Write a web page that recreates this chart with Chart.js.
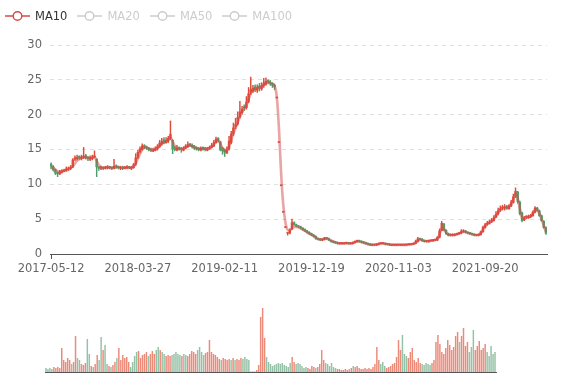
<!DOCTYPE html>
<html><head><meta charset="utf-8">
<script src="https://cdn.jsdelivr.net/npm/chart.js@4.4.0/dist/chart.umd.min.js"></script>
<style>
html,body{margin:0;padding:0;background:#fff;}
#wrap{position:relative;width:577px;height:380px;overflow:hidden;}
canvas{position:absolute;left:0;top:0;}
#legend{position:absolute;left:5px;top:8px;display:flex;gap:10px;font:11.5px 'DejaVu Sans',sans-serif;line-height:16px;}
.item{display:flex;align-items:center;gap:5px;}
.item svg{display:block;}
</style></head><body>
<div id="wrap">
<canvas id="main" width="577" height="380"></canvas>
<canvas id="vol" width="577" height="380"></canvas>
<div id="legend"></div>
</div>
<script>
const tickLabels = ['2017-05-12','2018-03-27','2019-02-11','2019-12-19','2020-11-03','2021-09-20'];
const tickEvery = 40;
const legendNames = ['MA10','MA20','MA50','MA100'];
const legendActive = [true,false,false,false];

const opens = [
12.9,12.5,12.1,11.7,11.5,11.8,11.9,12.0,12.2,12.3,
12.5,13.6,13.7,14.0,13.7,13.9,14.1,13.9,13.6,13.7,
13.9,13.6,12.4,12.3,12.4,12.3,12.4,12.5,12.4,12.3,
12.6,12.5,12.3,12.4,12.3,12.4,12.5,12.3,12.4,12.9,
13.9,14.7,15.0,15.6,15.3,15.2,15.0,14.8,14.9,15.1,
15.4,15.8,16.4,16.0,16.2,16.6,16.3,15.2,14.9,15.3,
15.1,14.9,15.2,15.4,15.8,15.6,15.5,15.3,15.1,14.9,
15.3,15.2,14.9,15.1,15.3,15.5,16.0,16.6,16.1,15.2,
14.9,14.5,15.1,16.0,17.3,18.3,18.7,19.7,20.3,21.1,
21.0,21.9,23.2,23.4,24.0,23.5,24.1,23.7,24.2,24.4,
24.9,24.6,24.5,24.2,22.4,16.0,9.8,6.0,3.8,3.0,
3.0,3.6,4.5,4.2,4.0,3.9,3.7,3.5,3.3,3.1,
2.9,2.7,2.5,2.2,2.1,2.0,2.1,2.3,2.2,2.0,
1.8,1.7,1.6,1.5,1.5,1.5,1.5,1.6,1.5,1.5,
1.6,1.8,1.9,1.8,1.7,1.6,1.5,1.4,1.3,1.3,
1.3,1.4,1.5,1.5,1.5,1.4,1.4,1.3,1.3,1.3,
1.3,1.3,1.3,1.3,1.3,1.35,1.35,1.4,1.5,1.8,
2.2,2.1,1.9,1.8,1.8,1.9,1.9,2.0,2.0,2.4,
3.4,4.3,3.4,2.9,2.7,2.7,2.7,2.8,2.9,3.0,
3.2,3.3,3.1,3.0,2.9,2.8,2.7,2.7,2.8,3.2,
3.8,4.3,4.4,4.7,4.8,5.3,5.8,6.3,6.6,6.6,
6.8,6.5,6.9,7.4,8.3,8.9,7.4,5.9,4.9,5.3,
5.2,5.4,5.5,6.0,6.6,6.2,5.5,4.7,3.8];
const closes = [
12.6,12.1,11.6,11.5,11.8,11.9,12.0,12.2,12.3,12.4,
13.5,13.8,13.9,13.8,13.9,14.0,13.8,13.7,13.8,13.9,
14.1,12.5,12.3,12.4,12.3,12.4,12.5,12.4,12.3,12.6,
12.5,12.4,12.4,12.3,12.4,12.5,12.4,12.4,12.8,13.8,
14.6,15.1,15.5,15.3,15.2,15.0,14.9,14.9,15.1,15.4,
15.9,16.2,16.0,16.3,16.6,17.2,15.1,15.0,15.2,15.1,
15.0,15.2,15.5,15.7,15.6,15.4,15.2,15.1,15.0,15.2,
15.1,15.0,15.1,15.3,15.6,16.0,16.5,16.3,15.0,14.8,
14.6,15.0,16.2,17.2,18.1,18.6,19.6,20.4,20.8,21.0,
21.8,23.0,23.6,23.8,23.6,23.9,23.8,24.2,24.5,24.8,
24.7,24.5,24.2,24.0,22.4,16.0,9.8,6.0,3.8,3.0,
3.4,4.5,4.2,4.0,3.9,3.7,3.5,3.3,3.1,2.9,
2.7,2.5,2.2,2.1,2.0,2.1,2.3,2.2,2.0,1.8,
1.7,1.6,1.5,1.5,1.5,1.5,1.6,1.5,1.5,1.6,
1.8,1.9,1.8,1.7,1.6,1.5,1.4,1.3,1.3,1.3,
1.4,1.5,1.5,1.5,1.4,1.4,1.3,1.3,1.3,1.3,
1.3,1.3,1.3,1.3,1.35,1.35,1.4,1.5,1.8,2.2,
2.1,1.9,1.8,1.8,1.9,1.9,2.0,2.0,2.4,3.3,
4.4,3.4,2.9,2.7,2.7,2.7,2.8,2.9,3.0,3.2,
3.3,3.1,3.0,2.9,2.8,2.7,2.7,2.8,3.2,3.8,
4.2,4.4,4.6,4.8,5.2,5.7,6.2,6.5,6.6,6.7,
6.6,6.9,7.4,8.2,9.0,7.5,5.8,4.8,5.2,5.3,
5.4,5.5,6.0,6.6,6.3,5.5,4.8,3.8,3.0];
const highs = [
13.1,12.7,12.2,11.8,12.0,12.1,12.2,12.5,12.5,12.7,
13.7,14.1,14.2,14.1,14.2,15.3,14.3,14.0,14.1,14.2,
14.8,13.7,12.6,12.6,12.5,12.6,12.7,12.6,12.5,13.6,
12.8,12.6,12.6,12.6,12.6,12.7,12.6,12.6,13.0,14.4,
14.9,15.4,15.8,15.7,15.5,15.3,15.2,15.2,15.4,15.7,
16.3,16.6,16.7,16.7,16.9,19.1,16.4,15.5,15.6,15.4,
15.3,15.4,15.7,16.1,15.9,15.8,15.6,15.4,15.3,15.4,
15.4,15.3,15.3,15.5,15.9,16.3,16.8,16.7,16.2,15.3,
15.1,15.4,16.9,17.6,18.8,19.5,20.4,21.9,21.2,21.4,
22.6,23.9,25.4,24.2,24.3,24.3,24.5,24.6,25.2,25.3,
25.0,24.9,24.6,24.4,22.4,16.0,9.8,6.0,3.8,3.0,
3.6,5.0,4.6,4.3,4.1,4.0,3.8,3.6,3.4,3.2,
3.0,2.8,2.6,2.3,2.2,2.2,2.4,2.4,2.3,2.0,
1.9,1.8,1.7,1.6,1.6,1.6,1.7,1.7,1.6,1.7,
1.9,2.0,2.0,1.9,1.8,1.7,1.6,1.5,1.4,1.4,
1.5,1.6,1.6,1.6,1.6,1.5,1.5,1.4,1.4,1.4,
1.4,1.4,1.4,1.4,1.45,1.45,1.5,1.6,2.0,2.4,
2.3,2.2,2.0,1.9,2.0,2.0,2.1,2.1,2.5,3.6,
4.7,4.4,3.5,3.0,2.9,2.9,2.9,3.0,3.1,3.5,
3.5,3.4,3.2,3.1,3.0,2.9,2.8,2.9,3.3,4.0,
4.4,4.7,4.9,5.1,5.5,6.1,6.6,6.9,7.0,7.1,
7.0,7.1,7.7,8.6,9.5,9.0,7.6,6.0,5.4,5.5,
5.6,5.7,6.2,6.8,6.7,6.3,5.6,4.8,3.9];
const lows = [
12.2,11.9,11.4,11.1,11.4,11.6,11.8,11.9,12.0,12.1,
12.4,13.4,13.5,13.6,13.5,13.7,13.6,13.4,13.4,13.5,
13.8,11.1,12.0,12.1,12.1,12.2,12.2,12.2,12.1,12.2,
12.3,12.2,12.1,12.1,12.2,12.2,12.2,12.1,12.3,12.7,
13.7,14.5,14.9,15.1,15.0,14.8,14.7,14.7,14.8,14.9,
15.3,15.6,15.8,15.9,16.0,16.4,14.4,14.8,14.8,14.9,
14.6,14.8,15.1,15.3,15.4,15.2,15.0,14.9,14.8,14.8,
14.9,14.8,14.8,15.0,15.2,15.4,15.9,16.1,14.8,14.3,
14.0,14.4,14.9,15.8,17.0,18.0,18.5,19.5,20.1,20.6,
20.8,21.7,22.9,23.2,23.3,23.2,23.4,23.5,23.9,24.2,
24.4,24.2,23.9,23.6,22.4,16.0,9.8,6.0,3.8,2.7,
2.9,3.5,4.1,3.9,3.8,3.6,3.4,3.2,3.0,2.8,
2.6,2.4,2.1,2.0,1.9,1.9,2.0,2.1,1.9,1.7,
1.6,1.5,1.4,1.4,1.4,1.4,1.5,1.4,1.4,1.4,
1.6,1.7,1.7,1.6,1.5,1.4,1.3,1.2,1.2,1.2,
1.2,1.3,1.4,1.4,1.3,1.3,1.2,1.2,1.2,1.2,
1.2,1.2,1.2,1.2,1.25,1.3,1.3,1.35,1.45,1.7,
2.0,1.8,1.7,1.7,1.7,1.8,1.8,1.9,1.9,2.3,
3.3,3.3,2.8,2.6,2.6,2.6,2.6,2.7,2.8,2.9,
3.1,3.0,2.9,2.8,2.7,2.6,2.6,2.6,2.7,3.1,
3.7,4.1,4.3,4.5,4.7,5.2,5.6,6.1,6.3,6.3,
6.4,6.4,6.8,7.3,8.1,7.3,5.6,4.6,4.8,5.1,
5.1,5.2,5.4,5.9,6.1,5.4,4.7,3.7,2.8];
const ma10 = [
12.6,12.4,12.1,11.9,11.8,11.8,11.9,12.0,12.1,12.3,
12.6,13.0,13.4,13.6,13.8,13.9,13.9,13.8,13.8,13.8,
13.9,13.4,12.8,12.5,12.4,12.4,12.4,12.4,12.4,12.4,
12.5,12.5,12.4,12.4,12.4,12.4,12.4,12.4,12.5,13.0,
13.7,14.4,15.0,15.3,15.3,15.1,15.0,14.9,15.0,15.2,
15.5,15.9,16.0,16.1,16.4,16.7,16.2,15.5,15.2,15.1,
15.1,15.1,15.3,15.5,15.6,15.5,15.3,15.2,15.1,15.1,
15.1,15.1,15.1,15.2,15.4,15.7,16.1,16.3,15.8,15.2,
14.8,14.9,15.5,16.4,17.3,18.1,18.9,19.7,20.4,20.8,
21.3,22.2,23.0,23.5,23.7,23.8,23.9,24.0,24.3,24.6,
24.7,24.6,24.4,24.1,22.6,18.0,11.5,7.0,4.5,3.5,
3.4,3.7,3.9,3.9,3.8,3.7,3.5,3.3,3.1,2.9,
2.8,2.6,2.4,2.2,2.1,2.1,2.2,2.2,2.1,1.9,
1.8,1.7,1.6,1.5,1.5,1.5,1.5,1.5,1.5,1.6,
1.7,1.8,1.8,1.7,1.6,1.5,1.4,1.35,1.3,1.3,
1.35,1.45,1.5,1.5,1.45,1.4,1.35,1.3,1.3,1.3,
1.3,1.3,1.3,1.3,1.3,1.35,1.4,1.45,1.65,1.95,
2.05,2.0,1.9,1.85,1.85,1.9,1.95,2.0,2.2,2.8,
3.7,3.6,3.1,2.8,2.7,2.7,2.75,2.85,2.95,3.1,
3.2,3.15,3.05,2.95,2.85,2.75,2.7,2.75,3.0,3.5,
4.0,4.3,4.5,4.7,5.0,5.45,5.95,6.35,6.55,6.65,
6.65,6.8,7.2,7.9,8.6,8.0,6.5,5.2,5.0,5.2,
5.35,5.45,5.8,6.35,6.4,5.8,5.0,4.1,3.2];
const volumes = [
4,3,4,3,5,4,5,4,24,12,
10,14,12,8,10,36,14,12,8,7,
9,33,18,6,5,8,17,12,35,22,
27,8,6,5,7,10,14,24,12,17,
14,15,10,5,10,16,20,21,14,17,
18,20,16,18,21,18,22,25,22,20,
18,16,17,16,17,18,20,18,17,16,
18,17,16,18,21,20,18,22,25,20,
17,19,20,32,20,18,17,15,13,12,
14,13,12,13,12,14,12,13,12,14,
13,15,13,12,0.5,0.4,0.5,2,7,55,
64,34,15,10,8,6,7,8,9,8,
9,7,6,5,9,15,10,8,9,8,
6,4,5,4,3,6,5,4,5,8,
22,12,9,8,6,9,5,4,3,3,
2,2,3,2,3,4,6,5,6,4,
3,3,4,3,4,3,5,8,25,12,
8,10,6,4,5,6,8,9,15,32,
22,37,18,16,14,20,24,12,10,14,
9,8,7,9,8,7,9,12,30,37,
28,20,18,24,32,27,22,25,36,40,
30,36,44,26,30,20,25,42,22,26,
31,22,24,28,20,16,26,18,20];

const categories = closes.map((_, i) => (i % tickEvery === 0 && tickLabels[i / tickEvery]) ? tickLabels[i / tickEvery] : '');
const UP = '#e04b3a', DOWN = '#4d9e68';
const VUP = 'rgba(228,88,66,0.7)', VDOWN = 'rgba(78,152,106,0.6)';
const MA_COLOR = 'rgb(214,73,73)';
const isUp = i => closes[i] >= opens[i];
const FONT = {family: "'DejaVu Sans', sans-serif", size: 11.5};

// legend
const lg = document.getElementById('legend');
legendNames.forEach((n, k) => {
  const c = legendActive[k] ? MA_COLOR : '#ccc';
  const d = document.createElement('div');
  d.className = 'item';
  d.innerHTML = '<svg width="25" height="14"><line x1="0" y1="7" x2="25" y2="7" stroke="' + c + '" stroke-width="1.5"/><circle cx="12.5" cy="7" r="4.3" fill="#fff" stroke="' + c + '" stroke-width="1.4"/></svg><span style="color:' + (legendActive[k] ? '#333' : '#ccc') + '">' + n + '</span>';
  lg.appendChild(d);
});

new Chart(document.getElementById('main'), {
  type: 'bar',
  data: {
    labels: categories,
    datasets: [
      {type: 'line', label: 'MA10', data: ma10, borderColor: 'rgba(214,73,73,0.5)', borderWidth: 2.6,
       pointRadius: 0, cubicInterpolationMode: 'monotone', fill: false, order: 0},
      {label: 'body', data: opens.map((o, i) => [o, closes[i]]),
       backgroundColor: c => isUp(c.dataIndex) ? UP : DOWN, barThickness: 1.8, minBarLength: 1, grouped: false, order: 1},
      {label: 'wick', data: lows.map((l, i) => [l, highs[i]]),
       backgroundColor: c => isUp(c.dataIndex) ? UP : DOWN, barThickness: 0.8, grouped: false, order: 2}
    ]
  },
  options: {
    responsive: false, animation: false, devicePixelRatio: 1,
    layout: {padding: {left: 0, right: 30, top: 45, bottom: 96}},
    plugins: {legend: {display: false}, tooltip: {enabled: false}},
    scales: {
      x: {
        offset: true,
        grid: {drawOnChartArea: false, offset: false, tickLength: 5,
               tickColor: c => (c.index % tickEvery === 0) ? '#555' : 'rgba(0,0,0,0)'},
        border: {color: '#555'},
        ticks: {autoSkip: false, maxRotation: 0, minRotation: 0, color: '#666', font: FONT, padding: 3,
                callback(v) { const l = this.getLabelForValue(v); return l ? l : null; }},
        afterFit(s) { s.height = 30; }
      },
      y: {
        min: 0, max: 30,
        ticks: {stepSize: 5, padding: 8, color: '#666', font: FONT},
        grid: {color: '#e0e0e0', drawTicks: false},
        border: {display: false, dash: [4, 4]},
        afterFit(s) { s.width = 50; }
      }
    }
  }
});

new Chart(document.getElementById('vol'), {
  type: 'bar',
  data: {
    labels: categories,
    datasets: [{label: 'Volume', data: volumes,
      backgroundColor: c => isUp(c.dataIndex) ? VUP : VDOWN, barPercentage: 0.75, categoryPercentage: 1}]
  },
  options: {
    responsive: false, animation: false, devicePixelRatio: 1,
    layout: {padding: {left: 45, right: 81, top: 300, bottom: 8}},
    plugins: {legend: {display: false}, tooltip: {enabled: false}},
    scales: {
      x: {offset: true, grid: {display: false}, ticks: {display: false},
          border: {display: true, color: '#555'}, afterFit(s) { s.height = 0; }},
      y: {display: false, min: 0, max: 72}
    }
  }
});
</script>
</body></html>
